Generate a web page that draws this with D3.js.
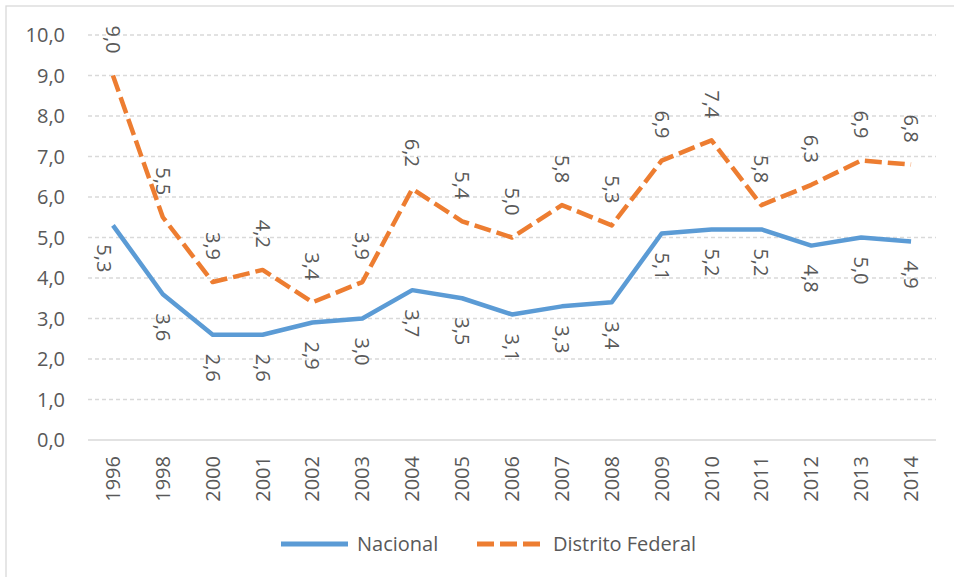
<!DOCTYPE html>
<html>
<head>
<meta charset="utf-8">
<script src="https://cdn.jsdelivr.net/npm/d3@7"></script>
<style>
  body { margin: 0; background: #fff; }
  svg { font-family: "Open Sans", "Liberation Sans", sans-serif; }
  .grid line { stroke: #d9d9d9; stroke-width: 1.3; stroke-dasharray: 4,3; }
  .lbl { fill: #595959; font-size: 20px; }
</style>
</head>
<body>
<svg width="954" height="577"></svg>
<script>
const years = ["1996","1998","2000","2001","2002","2003","2004","2005","2006","2007","2008","2009","2010","2011","2012","2013","2014"];
const nacional = [5.3, 3.6, 2.6, 2.6, 2.9, 3.0, 3.7, 3.5, 3.1, 3.3, 3.4, 5.1, 5.2, 5.2, 4.8, 5.0, 4.9];
const distrito = [9.0, 5.5, 3.9, 4.2, 3.4, 3.9, 6.2, 5.4, 5.0, 5.8, 5.3, 6.9, 7.4, 5.8, 6.3, 6.9, 6.8];
const yTicks = [0, 1, 2, 3, 4, 5, 6, 7, 8, 9, 10];
const seriesNames = ["Nacional", "Distrito Federal"];
const colors = ["#5b9bd5", "#ed7d31"];

const svg = d3.select("svg");
const fmt = v => d3.format(".1f")(v).replace(".", ",");

// outer frame
svg.append("rect")
  .attr("x", 6).attr("y", 6).attr("width", 960).attr("height", 590)
  .attr("fill", "none").attr("stroke", "#d9d9d9").attr("stroke-width", 1.3);

const x = d3.scaleBand().domain(years).range([88, 936]);
const y = d3.scaleLinear().domain([0, 10]).range([440, 35]);
const cx = d => x(d) + x.bandwidth() / 2;

// gridlines
svg.append("g").attr("class", "grid")
  .selectAll("line").data(yTicks.filter(t => t > 0)).enter()
  .append("line")
  .attr("x1", 88).attr("x2", 936)
  .attr("y1", d => y(d)).attr("y2", d => y(d));

svg.append("line")
  .attr("x1", 88).attr("x2", 936)
  .attr("y1", y(0)).attr("y2", y(0))
  .attr("stroke", "#d9d9d9").attr("stroke-width", 1.5);

// y labels
svg.selectAll(".ylab").data(yTicks).enter()
  .append("text").attr("class", "lbl")
  .attr("x", 65).attr("y", d => y(d))
  .attr("dy", "0.35em")
  .attr("text-anchor", "end")
  .text(d => fmt(d));

// x labels
svg.selectAll(".xlab").data(years).enter()
  .append("text").attr("class", "lbl")
  .attr("text-anchor", "end")
  .attr("dy", "0.35em")
  .attr("transform", d => `translate(${cx(d)},456) rotate(-90)`)
  .text(d => d);

const line = d3.line()
  .x((d, i) => cx(years[i]))
  .y(d => y(d));

svg.append("path").datum(nacional)
  .attr("d", line)
  .attr("fill", "none")
  .attr("stroke", colors[0])
  .attr("stroke-width", 4.5)
  .attr("stroke-linejoin", "round");

svg.append("path").datum(distrito)
  .attr("d", line)
  .attr("fill", "none")
  .attr("stroke", colors[1])
  .attr("stroke-width", 4.5)
  .attr("stroke-dasharray", "17,6")
  .attr("stroke-linejoin", "round");

// data labels, rotated
svg.selectAll(".nlab").data(nacional).enter()
  .append("text").attr("class", "lbl")
  .attr("text-anchor", "start")
  .attr("dy", "0.35em")
  .attr("transform", (d, i) => `translate(${cx(years[i]) - (i === 0 ? 9 : 0)},${y(d) + 19}) rotate(90)`)
  .text(d => fmt(d));

svg.selectAll(".dlab").data(distrito).enter()
  .append("text").attr("class", "lbl")
  .attr("text-anchor", "end")
  .attr("dy", "0.35em")
  .attr("transform", (d, i) => `translate(${cx(years[i])},${y(d) - 22}) rotate(90)`)
  .text(d => fmt(d));

// legend
const legend = [
  { name: seriesNames[0], color: colors[0], x: 281, dash: null },
  { name: seriesNames[1], color: colors[1], x: 477, dash: "17,6" }
];
legend.forEach(l => {
  svg.append("line")
    .attr("x1", l.x).attr("x2", l.x + 67)
    .attr("y1", 544).attr("y2", 544)
    .attr("stroke", l.color).attr("stroke-width", 5)
    .attr("stroke-dasharray", l.dash);
  svg.append("text").attr("class", "lbl")
    .attr("x", l.x + 76).attr("y", 544)
    .attr("dy", "0.35em")
    .text(l.name);
});
</script>
</body>
</html>
